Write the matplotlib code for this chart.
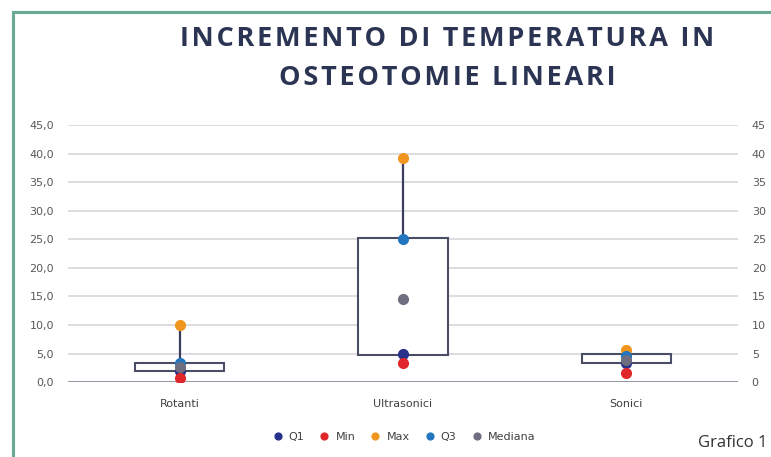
import matplotlib.pyplot as plt
from matplotlib.lines import Line2D

categorie = ['Rotanti', 'Ultrasonici', 'Sonici']
q1 = [2.0, 5.0, 3.3]
minimo = [0.7, 3.3, 1.6]
massimo = [10.0, 39.2, 5.6]
q3 = [3.4, 25.1, 4.6]
mediana = [2.6, 14.5, 3.8]
box_basso = [1.9, 4.8, 3.3]
box_alto = [3.3, 25.3, 4.9]
tick_y = [0, 5, 10, 15, 20, 25, 30, 35, 40, 45]
titolo = ['INCREMENTO DI TEMPERATURA IN', 'OSTEOTOMIE LINEARI']

fig = plt.figure(figsize=(7.71, 4.57), dpi=100)
ax = fig.add_axes([0.088, 0.164, 0.869, 0.562])
x = range(len(categorie))

# griglia
for t in tick_y[1:]:
    ax.axhline(t, color='#d9d5dc', lw=1.2, zorder=0)
ax.axhline(0, color='#8c8c99', lw=2, zorder=1)

# box e baffi
altezze = [a - b for a, b in zip(box_alto, box_basso)]
ax.bar(x, altezze, bottom=box_basso, width=0.4, color='white',
       edgecolor='#4a4d66', lw=1.5, zorder=2)
ax.vlines(x, q3, massimo, color='#3a3d5c', lw=1.6, zorder=3)

serie = [('Q1', q1, '#27308a'), ('Min', minimo, '#e0262b'),
         ('Max', massimo, '#f0961e'), ('Q3', q3, '#2275bf'),
         ('Mediana', mediana, '#6e6e80')]
for nome, val, col in serie:
    ax.plot(x, val, 'o', color=col, ms=7, label=nome, zorder=4)

ax.set_xlim(-0.5, 2.5)
ax.set_ylim(0, 45)
ax.set_yticks(tick_y)
ax.set_yticklabels([f'{t:.1f}'.replace('.', ',') for t in tick_y])
ax.set_xticks(list(x))
ax.set_xticklabels(categorie)
ax.tick_params(axis='y', length=0, pad=10, labelsize=8, labelcolor='#595959')
ax.tick_params(axis='x', length=0, pad=12, labelsize=8, labelcolor='#404040')
for s in ax.spines.values():
    s.set_visible(False)

ax2 = ax.twinx()
ax2.set_ylim(0, 45)
ax2.set_yticks(tick_y)
ax2.set_yticklabels([str(t) for t in tick_y])
ax2.tick_params(axis='y', length=0, pad=10, labelsize=8, labelcolor='#595959')
for s in ax2.spines.values():
    s.set_visible(False)

# titolo con lettere spaziate
for riga, yy in zip(titolo, [0.914, 0.829]):
    fig.text(0.580, yy, '\u200a'.join(riga), ha='center', va='center',
             fontsize=19.5, fontweight='bold', family=['Open Sans', 'DejaVu Sans'],
             color='#2b3553')

fig.legend(loc='center', bbox_to_anchor=(0.52, 0.044), ncol=5, frameon=False,
           fontsize=8, handletextpad=0.0, columnspacing=0.8, markerscale=0.7,
           labelcolor='#404040')

fig.text(0.995, 0.03, 'Grafico 1', ha='right', va='center', fontsize=12,
         family='Open Sans', color='#333333')

# cornice verde
fig.add_artist(Line2D([13 / 771, 13 / 771], [0, 1 - 12 / 457], color='#6aaa94', lw=2.2))
fig.add_artist(Line2D([13 / 771, 1], [1 - 12 / 457, 1 - 12 / 457], color='#6aaa94', lw=2.2))

fig.savefig('out.png', dpi=100)
